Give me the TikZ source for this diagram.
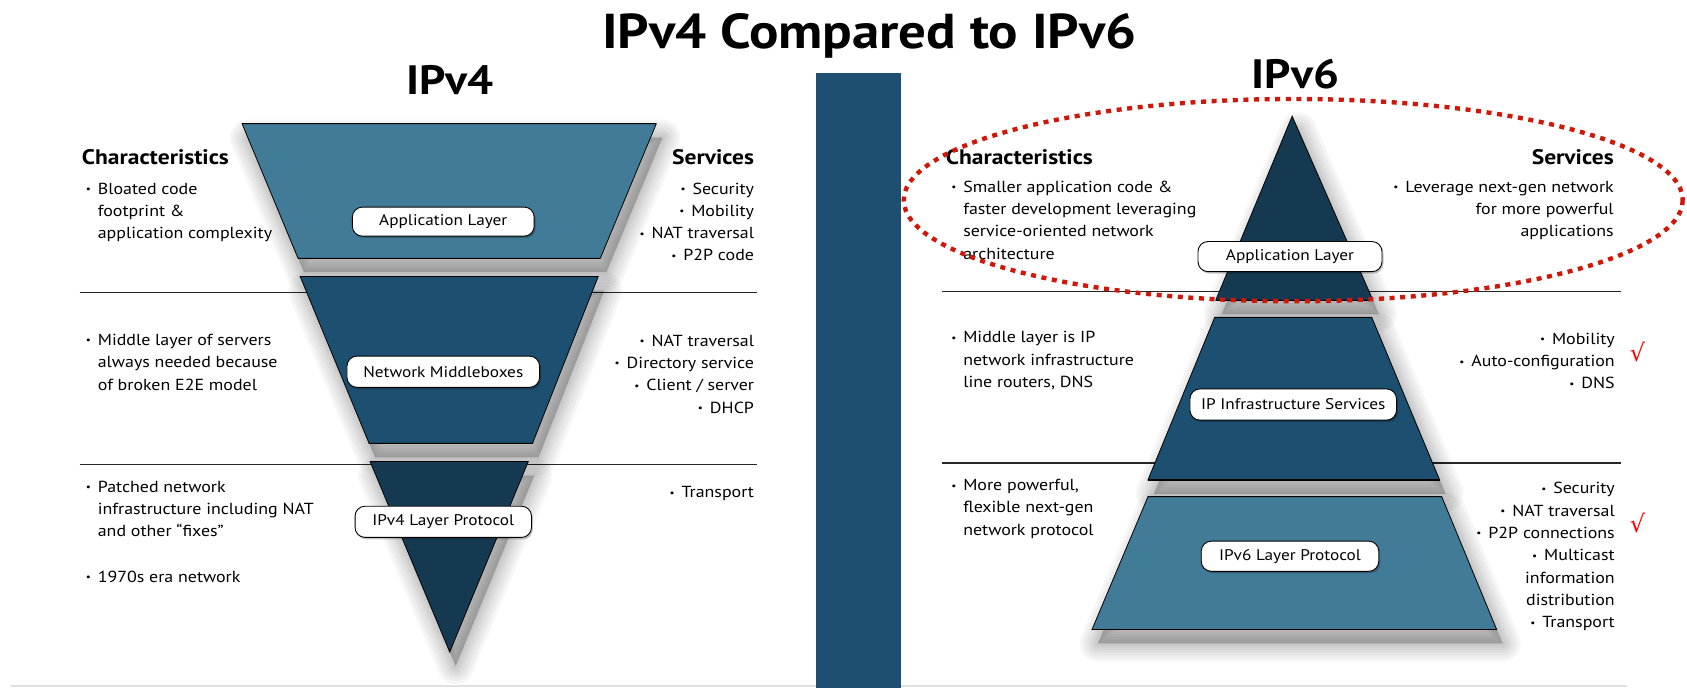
\documentclass[tikz,border=0pt]{standalone}
\usepackage{fontspec}
\setmainfont{PT Sans}[FakeStretch=1.12]
\newfontfamily\symfont{DejaVu Sans}
\definecolor{lightblue}{RGB}{66,123,151}
\definecolor{midblue}{RGB}{29,79,113}
\definecolor{darkblue}{RGB}{22,57,82}
\definecolor{barblue}{RGB}{30,79,112}
\definecolor{dotred}{RGB}{208,24,10}
\newcommand{\bu}{\makebox[12pt][l]{\raisebox{0.2ex}{\fontsize{10}{10}\selectfont\textbullet}}}
\newcommand{\ind}{\hspace*{12pt}}
\begin{document}
\begin{tikzpicture}[x=1.0759pt,y=-1.0759pt,
  shl/.style={preaction={fill=black,draw=black,fill opacity=0.034,draw opacity=0.034,line width=#1,line join=round,
      transform canvas={shift={(6pt,-14pt)}}}},
  layershadow/.style={shl=36pt,shl=30pt,shl=24pt,shl=18pt,shl=13pt,shl=8pt,shl=3pt},
  layer/.style={draw=black,line width=0.8pt,layershadow},
  edge/.style={draw=black,line width=1.3pt},
  divider/.style={draw=black!85,line width=1.4pt},
  pill/.style={draw=black,line width=0.9pt,fill=white,rounded corners=10pt,inner sep=0pt,font=\fontsize{15.4}{18}\selectfont,
     preaction={fill=black,fill opacity=0.22,transform canvas={shift={(1.5pt,-2pt)}}}},
  body/.style={inner sep=0pt,font=\fontsize{16}{22.3}\selectfont},
  lbody/.style={body,align=left,anchor=base west},
  rbody/.style={body,align=right,anchor=base east},
  head/.style={inner sep=0pt,font=\fontsize{21}{24}\selectfont\bfseries},
  title/.style={inner sep=0pt,font=\fontsize{49}{52}\selectfont\bfseries,anchor=base},
  subtitle/.style={inner sep=0pt,font=\fontsize{41}{44}\selectfont\bfseries,anchor=base},
  check/.style={inner sep=0pt,text=red,font=\symfont\fontsize{24}{24}\selectfont}
]
\useasboundingbox (0,0) rectangle (1568,639);
% bottom faint line
\draw[black!12,line width=1.5pt] (10,637.5) -- (1512,637.5);
% central bar
\fill[barblue] (758,67.5) rectangle (837,639);
% titles
\node[title] (maintitle) at (808,45) {IPv4 Compared to IPv6};
\node[subtitle] (t4) at (418,88) {IPv4};
\node[subtitle] (t6) at (1204,82) {IPv6};
% dividers
\draw[divider] (74,272) -- (704,272);
\draw[divider] (74,432) -- (704,432);
\draw[divider] (875.5,271) -- (1507,271);
\draw[divider] (875.5,430.5) -- (1507,430.5);
% IPv4 shapes
\filldraw[fill=lightblue,layer] (225,115) -- (610,115) -- (558,240) -- (277,240) -- cycle;
\draw[edge] (225,115) -- (610,115) (558,240) -- (277,240);
\filldraw[fill=midblue,layer] (279,257) -- (556,257) -- (495,412) -- (343,412) -- cycle;
\draw[edge] (279,257) -- (556,257) (495,412) -- (343,412);
\filldraw[fill=darkblue,layer] (344,429) -- (491,429) -- (418,606) -- cycle;
\draw[edge] (344,429) -- (491,429);
% IPv6 shapes
\filldraw[fill=darkblue,layer] (1201,108) -- (1276,279) -- (1130,279) -- cycle;
\draw[edge] (1276,279) -- (1130,279);
\filldraw[fill=midblue,layer] (1129,295) -- (1275,295) -- (1338,446) -- (1067,446) -- cycle;
\draw[edge] (1129,295) -- (1275,295) (1338,446) -- (1067,446);
\filldraw[fill=lightblue,layer] (1067,461.6) -- (1340,461.6) -- (1391,585) -- (1015,585) -- cycle;
\draw[edge] (1067,461.6) -- (1340,461.6) (1391,585) -- (1015,585);
% pills
\node[pill,minimum width=169*1.0759pt,minimum height=27*1.0759pt] (app4) at (412,206) {Application Layer};
\node[pill,minimum width=179*1.0759pt,minimum height=29*1.0759pt] (mid4) at (412,345.5) {Network Middleboxes};
\node[pill,minimum width=164*1.0759pt,minimum height=29*1.0759pt] (prot4) at (412,485) {IPv4 Layer Protocol};
\node[pill,minimum width=171*1.0759pt,minimum height=28*1.0759pt] (app6) at (1199,238.5) {Application Layer};
\node[pill,minimum width=192*1.0759pt,minimum height=29*1.0759pt] (mid6) at (1202,376) {IP Infrastructure Services};
\node[pill,minimum width=165*1.0759pt,minimum height=28*1.0759pt] (prot6) at (1199,517) {IPv6 Layer Protocol};
% IPv4 texts (anchor at baseline of last line)
\node[head,anchor=base west] (ch4) at (76,153) {Characteristics};
\node[head,anchor=base east] (sv4) at (701,153) {Services};
\node[lbody] (c4a) at (79.6,222) {\bu Bloated code\\\ind footprint \&\\\ind application complexity};
\node[rbody] (s4a) at (701,242.5) {\bu Security\\\bu Mobility\\\bu NAT traversal\\\bu P2P code};
\node[lbody] (c4b) at (79.6,362.5) {\bu Middle layer of servers\\\ind always needed because\\\ind of broken E2E model};
\node[rbody] (s4b) at (701,384) {\bu NAT traversal\\\bu Directory service\\\bu Client / server\\\bu DHCP};
\node[lbody] (c4c) at (79.6,499) {\bu Patched network\\\ind infrastructure including NAT\\\ind and other “fixes”};
\node[lbody] (c4d) at (79.6,541) {\bu 1970s era network};
\node[rbody] (s4c) at (701,462.5) {\bu Transport};
% IPv6 texts
\node[head,anchor=base west] (ch6) at (879,153) {Characteristics};
\node[head,anchor=base east] (sv6) at (1500,153) {Services};
\node[lbody] (c6a) at (884,241) {\bu Smaller application code \&\\\ind faster development leveraging\\\ind service-oriented network\\\ind architecture};
\node[rbody] (s6a) at (1500,220) {\bu Leverage next-gen network\\for more powerful\\applications};
\node[lbody] (c6b) at (884,360) {\bu Middle layer is IP\\\ind network infrastructure\\\ind line routers, DNS};
\node[rbody] (s6b) at (1501,361.5) {\bu Mobility\\\bu Auto-configuration\\\bu DNS};
\node[lbody] (c6c) at (884,497.5) {\bu More powerful,\\\ind flexible next-gen\\\ind network protocol};
\node[rbody] (s6c) at (1501,583.5) {\bu Security\\\bu NAT traversal\\\bu P2P connections\\\bu Multicast\\information\\distribution\\\bu Transport};
\node[check] (ck1) at (1522,327) {√};
\node[check] (ck2) at (1522,486) {√};
% red dotted ellipse
\draw[dotred,line width=4.4pt,dash pattern=on 5pt off 5.6pt] (1202,186) ellipse [x radius=362,y radius=94];
\end{tikzpicture}
\end{document}
